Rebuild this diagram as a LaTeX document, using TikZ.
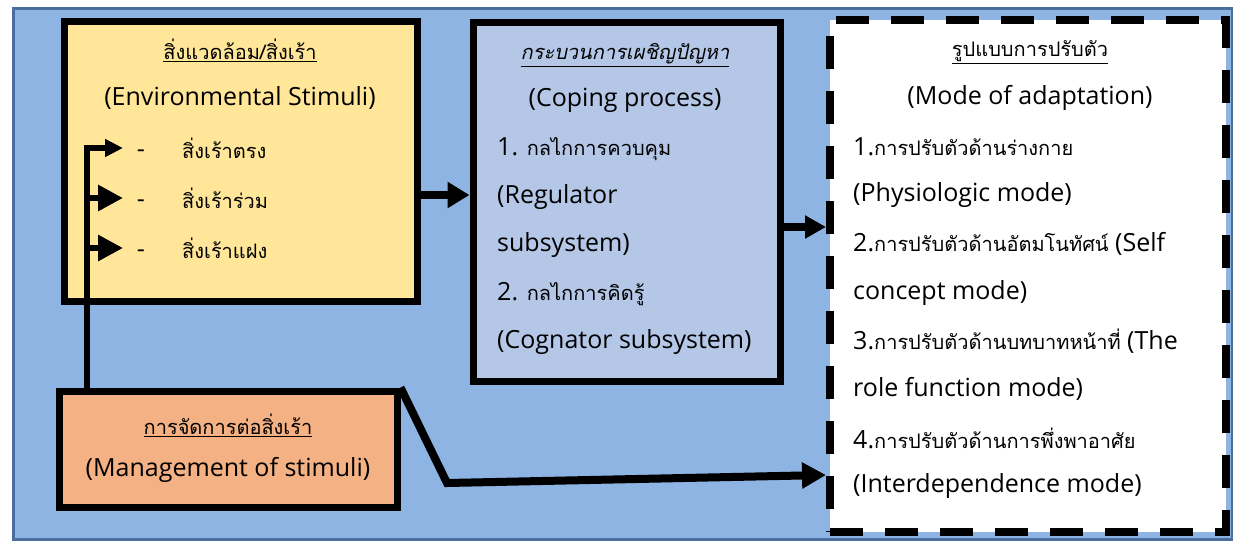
\documentclass[tikz,border=0pt]{standalone}
\usepackage{fontspec}
\setmainfont{Open Sans}
\newfontfamily\thaifont[Script=Thai, Scale=0.8]{Loma}
\newcommand{\tht}[1]{{\thaifont #1}}
\usetikzlibrary{arrows.meta}
\definecolor{bgblue}{HTML}{8EB4E3}
\definecolor{bgedge}{HTML}{4A6E9E}
\definecolor{envyellow}{HTML}{FFE699}
\definecolor{copeblue}{HTML}{B4C7E7}
\definecolor{mgmtorange}{HTML}{F4B183}
\tikzset{
  box/.style={draw=black, line width=7pt, inner sep=0pt},
  dashbox/.style={draw=black, line width=8pt, dash pattern=on 33pt off 22pt, fill=white, inner sep=0pt},
  txt/.style={inner sep=0pt, font=\fontsize{25}{30}\selectfont},
  lt/.style={txt, anchor=west},
  dashmark/.style={txt, anchor=base},
  conn/.style={line width=8pt, -{Triangle[length=22pt,width=25pt]}},
  feed/.style={line width=6pt, -{Triangle[length=25pt,width=25pt]}},
  feedsmall/.style={line width=6pt, -{Triangle[length=18pt,width=17pt]}}
}
\begin{document}
\begin{tikzpicture}[x=1pt,y=-1pt]
\useasboundingbox (0,0) rectangle (1233,542);
\fill[white] (0,0) rectangle (1233,542);
\node[draw=bgedge, fill=bgblue, line width=2.5pt, minimum width=1219pt, minimum height=531pt, inner sep=0pt, anchor=north west] (bg) at (12,7) {};
% boxes
\node[box, fill=envyellow, minimum width=353pt, minimum height=280pt] (env) at (240.5,161) {};
\node[box, fill=copeblue, minimum width=307pt, minimum height=359pt] (cope) at (626.5,201.5) {};
\node[dashbox, minimum width=396pt, minimum height=512pt] (mode) at (1028,276) {};
\node[box, fill=mgmtorange, minimum width=338pt, minimum height=116pt] (mgmt) at (228,449) {};
% environment texts
\node[txt] (envt) at (240,50) {\underline{\tht{สิ่งแวดล้อม/สิ่งเร้า}}};
\node[txt] (envs) at (240,98) {(Environmental Stimuli)};
\node[dashmark] (d1) at (141,157) {-};
\node[dashmark] (d2) at (141,207) {-};
\node[dashmark] (d3) at (141,257) {-};
\node[lt] (s1) at (182,148) {\tht{สิ่งเร้าตรง}};
\node[lt] (s2) at (182,198) {\tht{สิ่งเร้าร่วม}};
\node[lt] (s3) at (182,248) {\tht{สิ่งเร้าแฝง}};
% coping texts
\node[txt] (copt) at (625,55) {\underline{\tht{\itshape กระบวนการเผชิญปัญหา}}};
\node[txt] (cops) at (625,100) {(Coping process)};
\node[lt] (c1) at (497,149) {1. \tht{กลไกการควบคุม}};
\node[lt] (c2) at (497,197) {(Regulator};
\node[lt] (c3) at (497,245) {subsystem)};
\node[lt] (c4) at (497,294) {2. \tht{กลไกการคิดรู้}};
\node[lt] (c5) at (497,342) {(Cognator subsystem)};
% mode texts
\node[txt] (modt) at (1030,52) {\underline{\tht{รูปแบบการปรับตัว}}};
\node[txt] (mods) at (1030,98) {(Mode of adaptation)};
\node[lt] (m1) at (853,147) {1.\tht{การปรับตัวด้านร่างกาย}};
\node[lt] (m2) at (853,195) {(Physiologic mode)};
\node[lt] (m3) at (853,244) {2.\tht{การปรับตัวด้านอัตมโนทัศน์} (Self};
\node[lt] (m4) at (853,293) {concept mode)};
\node[lt] (m5) at (853,341) {3.\tht{การปรับตัวด้านบทบาทหน้าที่} (The};
\node[lt] (m6) at (853,389) {role function mode)};
\node[lt] (m7) at (853,438) {4.\tht{การปรับตัวด้านการพึ่งพาอาศัย}};
\node[lt] (m8) at (853,486) {(Interdependence mode)};
% management texts
\node[txt] (mgt) at (228,425) {\underline{\tht{การจัดการต่อสิ่งเร้า}}};
\node[txt] (mgs) at (228,470) {(Management of stimuli)};
% connectors
\draw[conn] (env.east |- 0,195) -- (cope.west |- 0,195);
\draw[conn, -{Triangle[length=21pt,width=22pt]}] (cope.east |- 0,227) -- (mode.west |- 0,227);
\coordinate (bend) at (447,483);
\draw[conn, -{Triangle[length=24pt,width=25pt]}, line join=miter] (mgmt.north east) -- (bend) -- (mode.west |- 0,475);
\coordinate (j1) at (87,148);
\coordinate (j2) at (87,198);
\coordinate (j3) at (87,248);
\draw[feedsmall, line join=miter] (j1 |- mgmt.north) -- (j1) -- (123,148);
\draw[feed] (j2) -- (123,198);
\draw[feed] (j3) -- (123,248);
\end{tikzpicture}
\end{document}
